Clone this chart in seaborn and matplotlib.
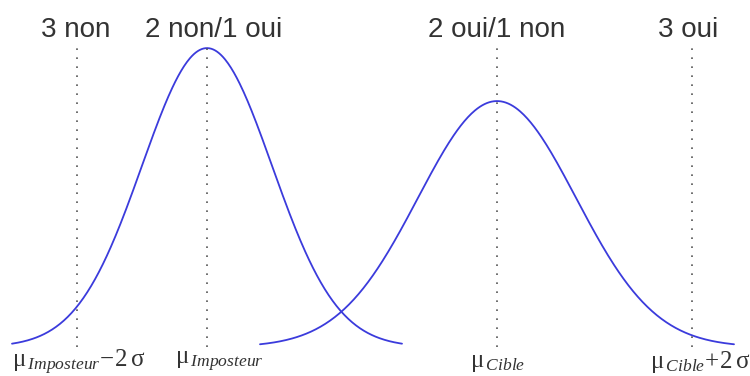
import numpy as np
import pandas as pd
import matplotlib
matplotlib.use("Agg")
import matplotlib.pyplot as plt
import seaborn as sns

# Distribution parameters (x unit = 100 px)
mu_imposteur = 2.07
sigma_imposteur = 0.65
mu_cible = 4.97
sigma_cible = 0.79

# Dotted reference lines and their labels
line_x = [0.77, 2.07, 4.97, 6.92]
top_labels = ["3 non", "2 non/1 oui", "2 oui/1 non", "3 oui"]
top_label_x = [0.76, 2.14, 4.97, 6.88]
bottom_labels = [r"$\mathrm{\mu}_{\,Imposteur}\!-\!2\,\mathrm{\sigma}$",
                 r"$\mathrm{\mu}_{\,Imposteur}$",
                 r"$\mathrm{\mu}_{\,Cible}$",
                 r"$\mathrm{\mu}_{\,Cible}\!+\!2\,\mathrm{\sigma}$"]
bottom_label_x = [0.79, 2.19, 4.98, 7.0]


def normal_curve(mu, sigma, name):
    x = np.linspace(mu - 3 * sigma, mu + 3 * sigma, 400)
    y = np.exp(-0.5 * ((x - mu) / sigma) ** 2) / (sigma * np.sqrt(2 * np.pi))
    return pd.DataFrame({"x": x, "density": y, "groupe": name})


df = pd.concat([normal_curve(mu_imposteur, sigma_imposteur, "Imposteur"),
                normal_curve(mu_cible, sigma_cible, "Cible")])

sns.set_style("white")
plt.rcParams["mathtext.fontset"] = "custom"
plt.rcParams["mathtext.rm"] = "Liberation Serif"
plt.rcParams["mathtext.it"] = "Liberation Serif:italic"

fig = plt.figure(figsize=(7.5, 3.76), dpi=100)
ax = fig.add_axes([0, 0, 1, 1])

sns.lineplot(data=df, x="x", y="density", units="groupe", estimator=None,
             color="#3b3bdc", linewidth=1.3, ax=ax)

peak = 1 / (sigma_imposteur * np.sqrt(2 * np.pi))
ax.vlines(line_x, 0, peak, colors="#555555", linewidth=1.2,
          linestyles=[(0, (1, 4.4))])

for lx, lab in zip(top_label_x, top_labels):
    ax.text(lx, 0.651, lab, ha="center", va="center", fontsize=20,
            color="#333333", family="Liberation Sans")

for lx, lab in zip(bottom_label_x, bottom_labels):
    ax.text(lx, -0.031, lab, ha="center", va="center", fontsize=18,
            color="#333333")

ax.set_xlim(0, 7.5)
ax.set_ylim(-29 / 487, 347 / 487)
ax.axis("off")

fig.savefig("out.png", dpi=100, facecolor="white")
